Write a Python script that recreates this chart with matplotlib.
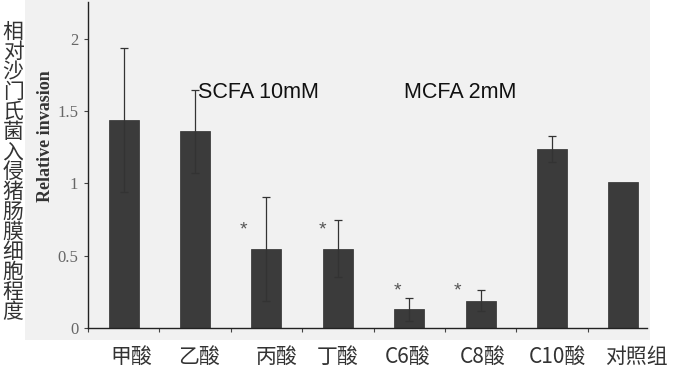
import numpy as np
import matplotlib
matplotlib.use('Agg')
import matplotlib.pyplot as plt
from matplotlib.patches import Rectangle

# data
groups = ['甲酸', '乙酸', '丙酸', '丁酸', 'C6酸', 'C8酸', 'C10酸', '对照组']
invasion = [1.44, 1.36, 0.55, 0.55, 0.13, 0.19, 1.24, 1.01]
err = [0.50, 0.29, 0.36, 0.20, 0.08, 0.07, 0.09, 0.0]
label_shift = [0.11, 0.06, 0.14, 0.0, -0.03, 0.03, 0.08, 0.18]  # labels sit a bit off-centre
star_x = [1.68, 2.78, 3.83, 4.68]
star_y = [0.71, 0.71, 0.29, 0.29]
side_title = '相对沙门氏菌入侵猪肠膜细胞程度'
yticks = [0, 0.5, 1, 1.5, 2]
yticklabels = ['0', '0.5', '1', '1.5', '2']

cjk = ['Noto Sans CJK SC', 'DejaVu Sans']

fig = plt.figure(figsize=(6.8, 3.72), dpi=100)
fig.patch.set_facecolor('white')

# grey scanned panel behind the plot
fig.patches.append(Rectangle((25/680, 32/372), 625/680, 340/372,
                             transform=fig.transFigure, facecolor='#f1f1f1',
                             edgecolor='none', zorder=-5))

ax = fig.add_axes([88/680, 44/372, 559/680, 326/372])
ax.set_facecolor('none')
ax.set_zorder(2)

x = np.arange(len(groups))
ax.bar(x, invasion, width=0.42, color='#3b3b3b', edgecolor='#2e2e2e', linewidth=0.5, zorder=2)
ax.errorbar(x[:-1], invasion[:-1], yerr=err[:-1], fmt='none', ecolor='#333333',
            elinewidth=0.9, capsize=3, capthick=0.9, zorder=3)

# '*' glyph sits high in its box, nudge down so the star centre hits star_y
for sx, sy in zip(star_x, star_y):
    ax.text(sx, sy - 0.035, '*', ha='center', va='center', fontsize=14,
            family='Liberation Sans', color='#555555')

ax.text(1.04, 1.59, 'SCFA 10mM', fontsize=15.5, family='Liberation Sans',
        color='#111111', ha='left', va='baseline')
ax.text(3.93, 1.59, 'MCFA 2mM', fontsize=15.5, family='Liberation Sans',
        color='#111111', ha='left', va='baseline')

ax.set_xlim(-0.5, 7.33)
ax.set_ylim(0, 2.256)

ax.set_yticks(yticks)
ax.set_yticklabels(yticklabels, family='Liberation Serif', fontsize=12, color='#666666')
ax.tick_params(axis='y', direction='out', length=3, width=0.8, color='#444444', pad=4)

ax.set_xticks(x - 0.5)
ax.set_xticklabels([])
ax.set_xticks(x + np.array(label_shift), minor=True)
ax.set_xticklabels(groups, minor=True, family=cjk, fontsize=15, color='#333333')
ax.tick_params(axis='x', which='major', direction='out', length=3, width=0.8, color='#444444')
ax.tick_params(axis='x', which='minor', length=0, pad=13)

for s in ['top', 'right']:
    ax.spines[s].set_visible(False)
for s in ['left', 'bottom']:
    ax.spines[s].set_color('#222222')
    ax.spines[s].set_linewidth(1.0)

ax.set_ylabel('Relative invasion', family='Liberation Serif', fontweight='bold',
              fontsize=13, color='#333333')
ax.yaxis.set_label_coords(-0.06, 0.59)

# vertical chinese caption on the far left
for i, ch in enumerate(side_title):
    fig.text(13/680, 1 - (32 + 20*i)/372, ch, family=cjk, fontsize=15,
             color='#333333', ha='center', va='center')

fig.savefig('out.png', dpi=100, facecolor='white')
